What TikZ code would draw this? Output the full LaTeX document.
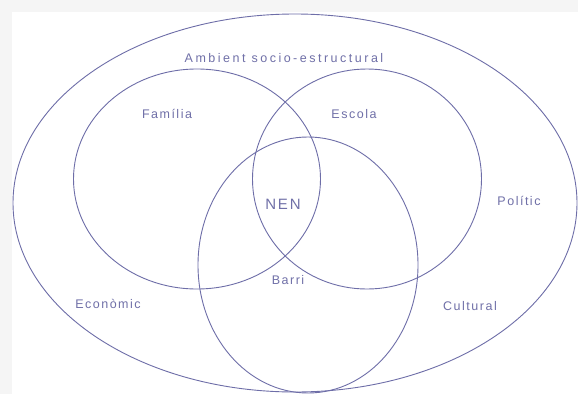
\documentclass[tikz,border=0pt]{standalone}
\usepackage{fontspec}
\setmainfont{Liberation Sans}[LetterSpace=12]
\usepackage{tikz}
\usetikzlibrary{shapes.geometric}
\definecolor{vennline}{RGB}{110,110,168}
\definecolor{venntext}{RGB}{112,112,168}
\tikzset{
  zone/.style={ellipse,draw=vennline,line width=0.9pt,inner sep=0pt},
  zonelabel/.style={text=venntext,font=\fontsize{12.5}{14}\selectfont,inner sep=0pt},
  centrelabel/.style={zonelabel,font=\fontsize{15}{17}\selectfont},
}
\begin{document}
\begin{tikzpicture}[x=1pt,y=-1pt]
\useasboundingbox (0,0) rectangle (578,394);
\fill[black!4] (0,0) rectangle (578,394);
\fill[white] (12,12) rectangle (578,394);

% zones
\node[zone,minimum width=564pt,minimum height=378pt] (ambient) at (295,203) {};
\node[zone,minimum width=247pt,minimum height=220pt] (familia) at (197,179) {};
\node[zone,minimum width=229pt,minimum height=220pt] (escola) at (367,179) {};
\node[zone,minimum width=220pt,minimum height=256pt] (barri) at (308,265) {};

% labels
\node[zonelabel] (lambient) at (284,58) {\addfontfeature{LetterSpace=20}Ambient socio-estructural};
\node[zonelabel] (lfamilia) at (167,114) {Família};
\node[zonelabel] (lescola) at (354,114) {Escola};
\node[centrelabel] (lnen) at (283,204) {NEN};
\node[zonelabel] (lbarri) at (288,280) {Barri};
\node[zonelabel] (leconomic) at (108,304) {Econòmic};
\node[zonelabel] (lcultural) at (470,306) {Cultural};
\node[zonelabel] (lpolitic) at (519,201) {Polític};

\end{tikzpicture}
\end{document}
